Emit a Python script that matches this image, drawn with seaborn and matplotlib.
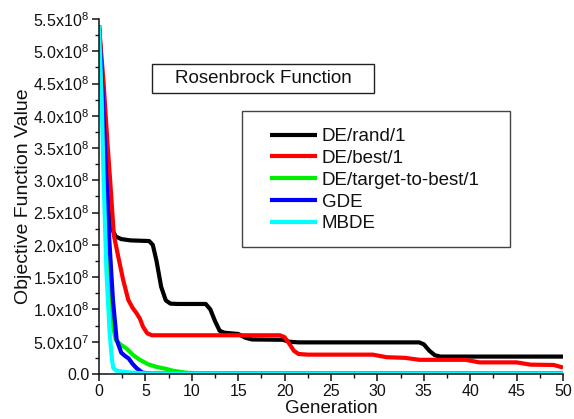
import matplotlib
matplotlib.use("Agg")
import matplotlib.pyplot as plt
from matplotlib.patches import Rectangle
from matplotlib.ticker import MultipleLocator, FixedLocator, FixedFormatter
import seaborn as sns
import pandas as pd

# Convergence histories (generation, best objective value)
rand1_gen = [0, 0.5, 1.0, 1.4, 1.8, 2.4, 3.4, 5.4, 5.8, 6.2, 6.7, 7.2, 7.7, 8.5,
             11.5, 12.0, 12.5, 13.0, 13.5, 15.0, 15.8, 16.5, 19.8, 20.5, 21.5,
             34.5, 35.0, 35.6, 36.2, 36.8, 50]
rand1_val = [5.4e8, 4.2e8, 2.9e8, 2.25e8, 2.13e8, 2.09e8, 2.07e8, 2.06e8, 2.0e8,
             1.75e8, 1.35e8, 1.14e8, 1.09e8, 1.085e8, 1.085e8, 1.0e8, 8.2e7,
             6.7e7, 6.4e7, 6.2e7, 5.6e7, 5.35e7, 5.3e7, 5.0e7, 4.9e7, 4.9e7,
             4.6e7, 3.6e7, 2.9e7, 2.7e7, 2.7e7]

best1_gen = [0, 0.5, 0.9, 1.2, 1.6, 2.1, 2.6, 3.15, 3.6, 4.05, 4.4, 4.75, 5.2,
             5.7, 6.5, 19.5, 20.0, 20.5, 21.0, 21.5, 22.5, 29.5, 31.0, 33.0,
             34.5, 39.5, 41.0, 45.0, 46.5, 49.0, 50]
best1_val = [5.4e8, 4.5e8, 3.6e8, 3.0e8, 2.15e8, 1.8e8, 1.46e8, 1.15e8, 1.03e8,
             9.4e7, 8.6e7, 7.3e7, 6.3e7, 6.0e7, 6.0e7, 6.0e7, 5.7e7, 4.7e7,
             3.6e7, 3.1e7, 3.0e7, 3.0e7, 2.6e7, 2.5e7, 2.2e7, 2.2e7, 1.8e7,
             1.8e7, 1.45e7, 1.4e7, 1.0e7]

ttb1_gen = [0, 0.4, 0.8, 1.2, 1.5, 1.8, 2.3, 3.0, 3.7, 4.4, 5.3, 6.2, 7.2, 8.0,
            9.4, 11.0, 50]
ttb1_val = [5.4e8, 4.0e8, 2.6e8, 1.3e8, 7.5e7, 5.3e7, 4.6e7, 3.9e7, 2.9e7,
            2.2e7, 1.5e7, 1.1e7, 8.0e6, 5.0e6, 2.0e6, 1.0e6, 1.0e6]

gde_gen = [0, 0.4, 0.8, 1.1, 1.5, 1.9, 2.4, 2.8, 3.2, 3.6, 4.05, 4.7, 5.5, 50]
gde_val = [5.4e8, 4.3e8, 3.0e8, 2.1e8, 1.15e8, 5.3e7, 3.3e7, 2.8e7, 2.4e7,
           1.6e7, 9.0e6, 2.0e6, 1.0e6, 1.0e6]

mbde_gen = [0, 0.3, 0.5, 0.8, 1.15, 1.4, 1.55, 1.9, 2.6, 3.6, 5.0, 50]
mbde_val = [5.4e8, 4.2e8, 3.0e8, 1.6e8, 6.3e7, 2.2e7, 9.0e6, 5.0e6, 3.5e6,
            2.0e6, 1.0e6, 1.0e6]

labels = ["DE/rand/1", "DE/best/1", "DE/target-to-best/1", "GDE", "MBDE"]
colors = ["#000000", "#ff0000", "#00ee00", "#0000ff", "#00ffff"]

y_ticks = [0, 5e7, 1e8, 1.5e8, 2e8, 2.5e8, 3e8, 3.5e8, 4e8, 4.5e8, 5e8, 5.5e8]
y_tick_labels = ["0.0", "5.0x10$^{7}$", "1.0x10$^{8}$", "1.5x10$^{8}$",
                 "2.0x10$^{8}$", "2.5x10$^{8}$", "3.0x10$^{8}$", "3.5x10$^{8}$",
                 "4.0x10$^{8}$", "4.5x10$^{8}$", "5.0x10$^{8}$", "5.5x10$^{8}$"]

sns.set_style("ticks")
plt.rcParams["font.family"] = ["Liberation Sans", "DejaVu Sans"]
plt.rcParams["mathtext.fontset"] = "custom"
plt.rcParams["mathtext.rm"] = "Liberation Sans"
plt.rcParams["mathtext.it"] = "Liberation Sans:italic"
plt.rcParams["mathtext.bf"] = "Liberation Sans:bold"

fig = plt.figure(figsize=(5.74, 4.19), dpi=100)
ax = fig.add_axes([99 / 574, 1 - 374 / 419, 464 / 574, 355 / 419])

series = [(rand1_gen, rand1_val), (best1_gen, best1_val), (ttb1_gen, ttb1_val),
          (gde_gen, gde_val), (mbde_gen, mbde_val)]
for (g, v), lab, col in zip(series, labels, colors):
    df = pd.DataFrame({"Generation": g, "Value": v})
    sns.lineplot(data=df, x="Generation", y="Value", ax=ax, color=col,
                 linewidth=3.0, label=lab, sort=False, estimator=None,
                 solid_joinstyle="round", solid_capstyle="butt")

ax.set_xlim(0, 50)
ax.set_ylim(0, 5.5e8)
ax.xaxis.set_major_locator(MultipleLocator(5))
ax.xaxis.set_minor_locator(MultipleLocator(2.5))
ax.yaxis.set_major_locator(FixedLocator(y_ticks))
ax.yaxis.set_major_formatter(FixedFormatter(y_tick_labels))
ax.yaxis.set_minor_locator(MultipleLocator(2.5e7))

for side in ("top", "right"):
    ax.spines[side].set_visible(False)
for side in ("left", "bottom"):
    ax.spines[side].set_linewidth(1.1)
    ax.spines[side].set_color("#111111")

ax.tick_params(axis="both", which="major", direction="out", length=5,
               width=1.1, color="#111111", labelsize=11.5, labelcolor="#111111")
ax.tick_params(axis="both", which="minor", direction="out", length=3,
               width=1.0, color="#111111")
ax.tick_params(axis="y", which="major", pad=2)
ax.tick_params(axis="x", which="major", pad=2)

ax.set_xlabel("Generation", fontsize=13.5, labelpad=1, color="#111111")
ax.set_ylabel("Objective Function Value", fontsize=14, labelpad=1,
              color="#111111")

# Title box
ax.add_patch(Rectangle((0.1136, 0.7915), 0.479, 0.0817, transform=ax.transAxes,
                       facecolor="white", edgecolor="#222222", linewidth=1.0,
                       zorder=5))
ax.text(0.3534, 0.8324, "Rosenbrock Function", transform=ax.transAxes,
        ha="center", va="center", fontsize=13.5, color="#111111", zorder=6)

# Legend with a separate frame
ax.add_patch(Rectangle((0.3082, 0.3577), 0.5776, 0.383, transform=ax.transAxes,
                       facecolor="white", edgecolor="#444444", linewidth=1.0,
                       zorder=5))
leg = ax.legend(loc="upper left", bbox_to_anchor=(0.3685, 0.693),
                frameon=False, fontsize=13.5, handlelength=2.5,
                handletextpad=0.27, labelspacing=0.25, borderpad=0.0,
                borderaxespad=0.0)
leg.set_zorder(6)
for t in leg.get_texts():
    t.set_color("#111111")
for h in leg.get_lines():
    h.set_linewidth(3.0)

fig.savefig("out.png", dpi=100)
